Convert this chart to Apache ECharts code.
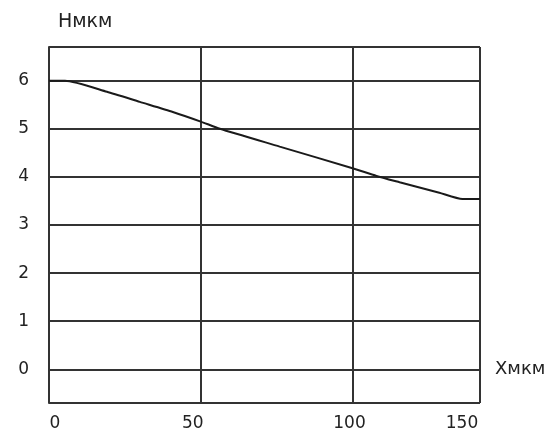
<!DOCTYPE html>
<html>
<head>
<meta charset="utf-8">
<script src="https://cdn.jsdelivr.net/npm/echarts@6/dist/echarts.min.js"></script>
<style>html,body{margin:0;padding:0;background:#fff}#c{width:550px;height:432px}</style>
</head>
<body>
<div id="c"></div>
<script>
// Data
const xValues = [0, 5.3, 19.1, 29.9, 40.8, 50, 56.3, 76, 100, 107.9, 115.5, 128.6, 136.2, 142];
const hValues = [6.0, 6.0, 5.77, 5.56, 5.35, 5.15, 5.0, 4.63, 4.18, 4.02, 3.89, 3.67, 3.54, 3.54];
const xTickValues = [0, 50, 100, 142];
const xTickLabels = ['0', '50', '100', '150'];
const yTickLabels = ['0', '1', '2', '3', '4', '5', '6'];
const X_MIN = 0, X_MAX = 142, Y_MIN = -0.7, Y_MAX = 6.7;

const lineCol = '#333';
const font = 'DejaVu Sans, Arial, sans-serif';
const txt = '#222';
const chart = echarts.init(document.getElementById('c'), null, {renderer: 'canvas'});
chart.setOption({
  animation: false,
  backgroundColor: '#fff',
  grid: {left: 49, right: 70, top: 47, bottom: 29, containLabel: false},
  xAxis: {
    type: 'value', min: X_MIN, max: X_MAX, splitNumber: 3,
    name: 'Хмкм', nameLocation: 'end', nameGap: 15,
    nameTextStyle: {color: txt, fontSize: 18, fontFamily: font, padding: [0, 0, 60, 0], verticalAlign: 'middle'},
    axisLine: {show: true, lineStyle: {color: lineCol, width: 2}},
    axisTick: {show: false},
    splitLine: {show: true, lineStyle: {color: lineCol, width: 2}},
    axisLabel: {
      color: txt, fontSize: 17, fontFamily: font, margin: 12,
      showMinLabel: true, showMaxLabel: true,
      formatter: function (v) {
        const i = xTickValues.indexOf(v);
        if (i < 0) return '';
        const keys = ['a', 'b', 'c', 'd'];
        return '{' + keys[i] + '|' + xTickLabels[i] + '}';
      },
      rich: {
        a: {fontSize: 17, fontFamily: font, color: txt, padding: [0, 0, 0, 12]},
        b: {fontSize: 17, fontFamily: font, color: txt, padding: [0, 16, 0, 0]},
        c: {fontSize: 17, fontFamily: font, color: txt, padding: [0, 6, 0, 0]},
        d: {fontSize: 17, fontFamily: font, color: txt, padding: [0, 36, 0, 0]}
      }
    }
  },
  yAxis: {
    type: 'value', min: Y_MIN, max: Y_MAX, splitNumber: 7,
    name: 'Нмкм', nameLocation: 'end', nameGap: 15,
    nameTextStyle: {color: txt, fontSize: 19, fontFamily: font, align: 'left', padding: [0, 0, 0, 9]},
    axisLine: {show: true, lineStyle: {color: lineCol, width: 2}},
    axisTick: {show: false},
    splitLine: {show: true, lineStyle: {color: lineCol, width: 2}},
    axisLabel: {
      color: txt, fontSize: 17, fontFamily: font, margin: 20,
      formatter: function (v) {
        const r = Math.round(v);
        return Math.abs(v - r) < 1e-6 && yTickLabels.indexOf(String(r)) >= 0 ? String(r) : '';
      }
    }
  },
  series: [{
    type: 'line',
    data: xValues.map((x, i) => [x, hValues[i]]),
    showSymbol: false,
    symbol: 'none',
    smooth: 0.2,
    lineStyle: {color: '#1a1a1a', width: 2},
    clip: true
  }]
});
</script>
</body>
</html>
